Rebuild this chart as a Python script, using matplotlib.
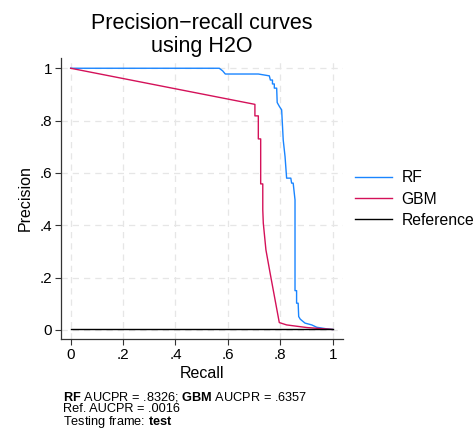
import matplotlib
matplotlib.use("Agg")
import matplotlib.pyplot as plt

plt.rcParams['font.family'] = ['Liberation Sans', 'DejaVu Sans']
plt.rcParams['mathtext.fontset'] = 'custom'
plt.rcParams['mathtext.rm'] = 'Liberation Sans'
plt.rcParams['mathtext.bf'] = 'Liberation Sans:bold'

#-------curve data-------
rf_recall = [0, 0.567, 0.58, 0.59, 0.716, 0.758, 0.762, 0.770, 0.770, 0.777, 0.777,
             0.786, 0.788, 0.797, 0.805, 0.811, 0.818, 0.824, 0.840, 0.843, 0.849,
             0.856, 0.856, 0.862, 0.862, 0.868, 0.870, 0.876, 0.894, 0.920, 0.939,
             0.977, 1.0]
rf_precision = [1, 1, 0.99, 0.978, 0.978, 0.971, 0.955, 0.955, 0.940, 0.940, 0.924,
                0.924, 0.869, 0.853, 0.841, 0.726, 0.662, 0.580, 0.580, 0.561, 0.561,
                0.497, 0.150, 0.150, 0.102, 0.102, 0.051, 0.041, 0.026, 0.019, 0.010,
                0.004, 0.0016]

gbm_recall = [0, 0.703, 0.703, 0.716, 0.716, 0.725, 0.725, 0.733, 0.733, 0.735,
              0.745, 0.761, 0.796, 0.824, 0.901, 1.0]
gbm_precision = [1, 0.862, 0.818, 0.818, 0.730, 0.730, 0.558, 0.558, 0.459, 0.408,
                 0.306, 0.217, 0.028, 0.019, 0.009, 0.0016]

ref_recall = [0, 1]
ref_precision = [0.0016, 0.0016]

ticks = [0, 0.2, 0.4, 0.6, 0.8, 1]
tick_labels = ['0', '.2', '.4', '.6', '.8', '1']

fig = plt.figure(figsize=(4.75, 4.3), dpi=100)
ax = fig.add_axes([0.1278, 0.2109, 0.5937, 0.6547])

ax.plot(rf_recall, rf_precision, color='#1a85ff', lw=1.0, label='RF')
ax.plot(gbm_recall, gbm_precision, color='#d41159', lw=1.0, label='GBM')
ax.plot(ref_recall, ref_precision, color='black', lw=1.0, label='Reference')

ax.set_xlim(-0.038, 1.038)
ax.set_ylim(-0.036, 1.040)
ax.set_xticks(ticks)
ax.set_xticklabels(tick_labels)
ax.set_yticks(ticks)
ax.set_yticklabels(tick_labels)
ax.tick_params(labelsize=11, length=4, width=0.8, color='#333333', pad=2)
ax.grid(True, ls=(0, (5, 4)), color='#e6e6e6', lw=0.9)
ax.set_axisbelow(True)
for s in ['top', 'right']:
    ax.spines[s].set_visible(False)
for s in ['left', 'bottom']:
    ax.spines[s].set_color('#333333')
    ax.spines[s].set_linewidth(0.9)

ax.set_xlabel('Recall', fontsize=11.5, labelpad=3)
ax.set_ylabel('Precision', fontsize=11.5, labelpad=5)
ax.set_title('Precision\u2212recall curves\nusing H2O', fontsize=15.5, pad=4, linespacing=1.12)

fig.legend(loc='center left', bbox_to_anchor=(355 / 475, 1 - 199 / 430), frameon=False,
           fontsize=11.3, handlelength=2.35, handletextpad=0.6, labelspacing=0.4,
           borderpad=0, borderaxespad=0)

fig.text(63 / 475, 1 - 390 / 430,
         '$\\mathbf{RF}$ AUCPR = .8326; $\\mathbf{GBM}$ AUCPR = .6357\n'
         'Ref. AUCPR = .0016\n'
         'Testing frame: $\\mathbf{test}$',
         fontsize=9.2, va='top', ha='left', linespacing=0.9)

fig.savefig('out.png', dpi=100)
